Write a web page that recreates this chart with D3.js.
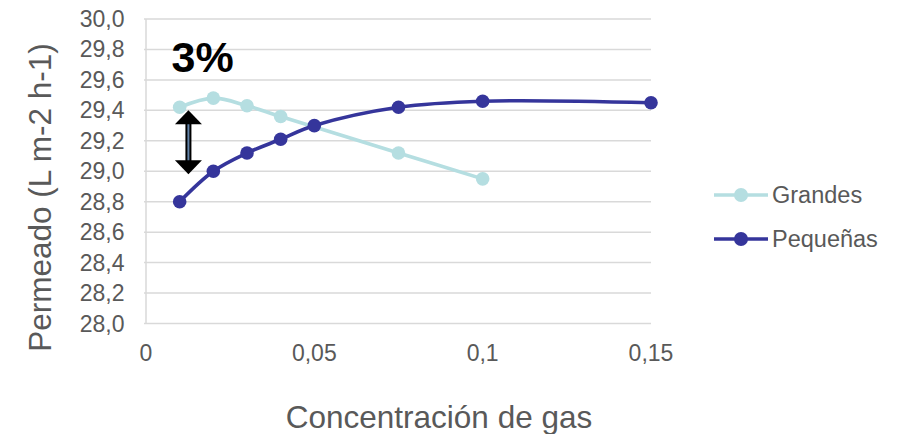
<!DOCTYPE html>
<html>
<head>
<meta charset="utf-8">
<script src="https://cdn.jsdelivr.net/npm/d3@7"></script>
<style>
  html, body { margin: 0; padding: 0; background: #ffffff; }
  svg { display: block; font-family: "Liberation Sans", Arial, sans-serif; }
</style>
</head>
<body>
<svg id="chart" width="905" height="434"></svg>
<script>
// Permeate flux vs gas concentration, two bubble sizes
const grandesX = [0.01, 0.02, 0.03, 0.04, 0.075, 0.1];
const grandesY = [29.42, 29.48, 29.43, 29.36, 29.12, 28.95];
const pequenasX = [0.01, 0.02, 0.03, 0.04, 0.05, 0.075, 0.1, 0.15];
const pequenasY = [28.80, 29.00, 29.12, 29.21, 29.30, 29.42, 29.46, 29.45];
const seriesNames = ["Grandes", "Pequeñas"];
const seriesColors = ["#b5dee1", "#35359b"];
const yTicks = [28.0, 28.2, 28.4, 28.6, 28.8, 29.0, 29.2, 29.4, 29.6, 29.8, 30.0];
const xTicks = [0, 0.05, 0.1, 0.15];
const xTickLabels = ["0", "0,05", "0,1", "0,15"];
const arrowFrom = 29.40;   // top tip of the double arrow (value axis)
const arrowTo = 28.98;     // bottom tip of the double arrow
const arrowAt = 0.0126;    // x position of the arrow
const noteText = "3%";

const svg = d3.select("#chart");
const x = d3.scaleLinear().domain([0, 0.15]).range([146, 651]);
const y = d3.scaleLinear().domain([28, 30]).range([323.5, 19]);

const grid = "#d9d9d9";
const textCol = "#595959";

// horizontal gridlines
svg.append("g")
  .selectAll("line").data(yTicks).join("line")
  .attr("x1", x(0) - 2).attr("x2", x(0.15))
  .attr("y1", d => y(d)).attr("y2", d => y(d))
  .attr("stroke", grid).attr("stroke-width", 1.5);

// value axis line
svg.append("line")
  .attr("x1", x(0)).attr("x2", x(0))
  .attr("y1", y(30)).attr("y2", y(28))
  .attr("stroke", grid).attr("stroke-width", 1.5);

// y tick labels
svg.append("g")
  .selectAll("text").data(yTicks).join("text")
  .attr("x", 124.5).attr("y", d => y(d) + 8)
  .attr("text-anchor", "end")
  .attr("font-size", 23).attr("fill", textCol)
  .text(d => d.toFixed(1).replace(".", ","));

// x tick labels
svg.append("g")
  .selectAll("text").data(xTicks).join("text")
  .attr("x", d => x(d)).attr("y", 361)
  .attr("text-anchor", "middle")
  .attr("font-size", 23).attr("fill", textCol)
  .text((d, i) => xTickLabels[i]);

// axis titles
svg.append("text")
  .attr("x", 439).attr("y", 428)
  .attr("text-anchor", "middle")
  .attr("font-size", 31.5).attr("fill", textCol)
  .text("Concentración de gas");

svg.append("text")
  .attr("transform", "translate(51,197.5) rotate(-90)")
  .attr("text-anchor", "middle")
  .attr("font-size", 31.5).attr("fill", textCol)
  .text("Permeado (L m-2 h-1)");

// series
const series = [
  { name: seriesNames[0], color: seriesColors[0], pts: grandesX.map((v, i) => [v, grandesY[i]]) },
  { name: seriesNames[1], color: seriesColors[1], pts: pequenasX.map((v, i) => [v, pequenasY[i]]) }
];

const line = d3.line()
  .x(d => x(d[0])).y(d => y(d[1]))
  .curve(d3.curveCatmullRom.alpha(0.5));

series.forEach(s => {
  const g = svg.append("g");
  g.append("path")
    .attr("d", line(s.pts))
    .attr("fill", "none").attr("stroke", s.color)
    .attr("stroke-width", 3.6).attr("stroke-linejoin", "round");
  g.selectAll("circle").data(s.pts).join("circle")
    .attr("cx", d => x(d[0])).attr("cy", d => y(d[1]))
    .attr("r", 6.8).attr("fill", s.color);
});

// annotation: percentage and double arrow
svg.append("text")
  .attr("x", 171.5).attr("y", 72)
  .attr("font-size", 43).attr("font-weight", "bold").attr("fill", "#000")
  .text(noteText);

const ax = x(arrowAt);
const yTop = y(arrowFrom);
const yBot = y(arrowTo);
const headH = 14, headW = 13.5;
const arrow = svg.append("g");
arrow.append("rect")
  .attr("x", ax - 3).attr("y", yTop + headH - 1)
  .attr("width", 6).attr("height", (yBot - yTop) - 2 * headH + 2)
  .attr("fill", "#000");
arrow.append("rect")
  .attr("x", ax - 1).attr("y", yTop + headH - 1)
  .attr("width", 2).attr("height", (yBot - yTop) - 2 * headH + 2)
  .attr("fill", "#6383a8");
arrow.append("path")
  .attr("d", `M${ax},${yTop} L${ax + headW},${yTop + headH} L${ax - headW},${yTop + headH} Z`)
  .attr("fill", "#000");
arrow.append("path")
  .attr("d", `M${ax},${yBot} L${ax + headW},${yBot - headH} L${ax - headW},${yBot - headH} Z`)
  .attr("fill", "#000");

// legend
const legend = svg.append("g");
const legendY = [195, 239];
series.forEach((s, i) => {
  const gy = legendY[i];
  legend.append("line")
    .attr("x1", 714).attr("x2", 768).attr("y1", gy).attr("y2", gy)
    .attr("stroke", s.color).attr("stroke-width", 3.6);
  legend.append("circle")
    .attr("cx", 741).attr("cy", gy).attr("r", 7).attr("fill", s.color);
  legend.append("text")
    .attr("x", 772).attr("y", gy + 8)
    .attr("font-size", 23.5).attr("fill", textCol)
    .text(s.name);
});
</script>
</body>
</html>
